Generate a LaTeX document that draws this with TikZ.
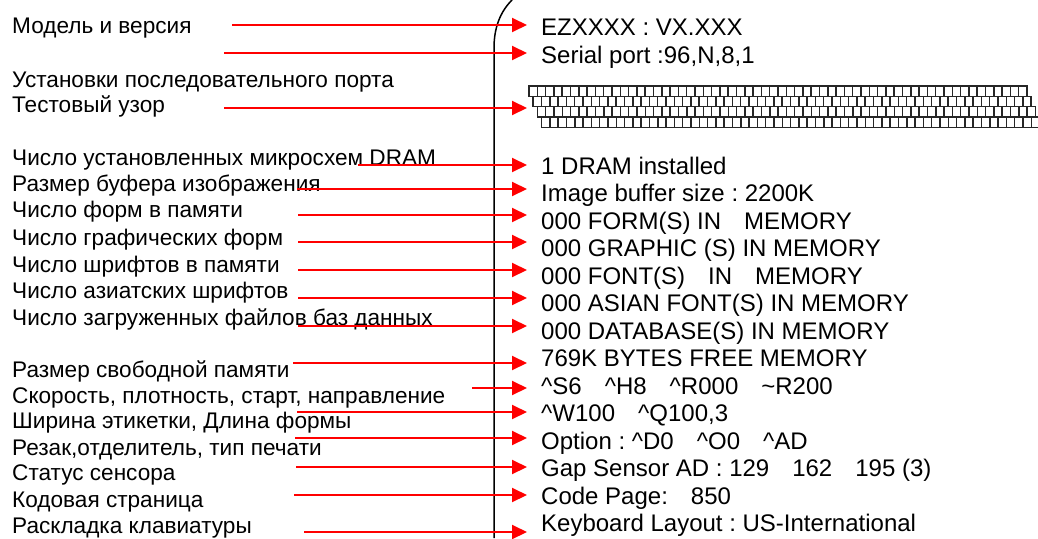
\documentclass[tikz,border=0pt]{standalone}
\usepackage{fontspec}
\setmainfont{Liberation Sans}
\usetikzlibrary{arrows.meta}
\frenchspacing
\tikzset{
    % red pointer from a label to the printout line
    redarrow/.style={
        line width=2pt,
        red,
        -{Triangle[length=15pt, width=14pt]},
        shorten >=14pt
    },
    lbl/.style={anchor=base west, inner sep=0pt, font=\fontsize{22.6}{26}\selectfont},
    txt/.style={anchor=base west, inner sep=0pt, font=\fontsize{24}{28}\selectfont},
    brick/.style={line width=1.5pt, draw=black!85, fill=white}
}
\newcommand{\wgap}{\hspace{23pt}}

\begin{document}
\begin{tikzpicture}[x=1pt,y=-1pt]
\useasboundingbox (0,0) rectangle (1038,538);

% ===================== paper edge =====================
\draw[line width=1.5pt] (512,0) .. controls (500,12) and (494,28) .. (494,48) -- (494,538);

% ===================== left labels =====================
\foreach \y/\t [count=\i] in {
    33/{Модель и версия},
    87/{Установки последовательного порта},
    112/{Тестовый узор},
    165/{Число установленных микросхем DRAM},
    191/{Размер буфера изображения},
    217/{Число форм в памяти},
    245/{Число графических форм},
    272/{Число шрифтов в памяти},
    298/{Число азиатских шрифтов},
    325/{Число загруженных файлов баз данных},
    377/{Размер свободной памяти},
    403/{Скорость, плотность, старт, направление},
    428/{Ширина этикетки, Длина формы},
    455/{Резак,отделитель, тип печати},
    480/{Статус сенсора},
    507/{Кодовая страница},
    533/{Раскладка клавиатуры}}
    \node[lbl] (lbl\i) at (12,\y) {\t};

% ===================== printout =====================
\node[txt] (txt1) at (541,35) {EZXXXX : VX.XXX};
\node[txt] (txt2) at (541,63) {Serial port :96,N,8,1};
\node[txt] (txt3) at (541,174) {1 DRAM installed};
\node[txt] (txt4) at (541,201.5) {Image buffer size : 2200K};
\node[txt] (txt5) at (541,229) {000 FORM(S) IN\wgap MEMORY};
\node[txt] (txt6) at (541,256.5) {000 GRAPHIC (S) IN MEMORY};
\node[txt] (txt7) at (541,284) {000 FONT(S)\wgap IN\wgap MEMORY};
\node[txt] (txt8) at (541,311.5) {000 ASIAN FONT(S) IN MEMORY};
\node[txt] (txt9) at (541,339) {000 DATABASE(S) IN MEMORY};
\node[txt] (txt10) at (541,366.5) {769K BYTES FREE MEMORY};
\node[txt] (txt11) at (541,394) {\textasciicircum S6\wgap\textasciicircum H8\wgap\textasciicircum R000\wgap\textasciitilde R200};
\node[txt] (txt12) at (541,421.5) {\textasciicircum W100\wgap\textasciicircum Q100,3};
\node[txt] (txt13) at (541,449) {Option : \textasciicircum D0\wgap\textasciicircum O0\wgap\textasciicircum AD};
\node[txt] (txt14) at (541,476.5) {Gap Sensor AD : 129\wgap 162\wgap 195 (3)};
\node[txt] (txt15) at (541,504) {Code Page:\wgap 850};
\node[txt] (txt16) at (541,531.5) {Keyboard Layout : US-International};

% test pattern
\foreach \r in {0,...,3}
    \foreach \k in {0,...,59}
        \draw[brick] ({529+4.2*\r+8.3*\k},{86+10.35*\r}) rectangle +(8.3,10.35);
\coordinate (pat) at (541,108);

% ===================== arrows =====================
\coordinate (from1) at (232,25);
\coordinate (from2) at (224,53);
\coordinate (from3) at (224,108);
\draw[redarrow] (from1) -- (from1 -| txt1.west);
\draw[redarrow] (from2) -- (from2 -| txt2.west);
\draw[redarrow] (from3) -- (pat);
\foreach \x/\y [count=\i from 3] in {358/165, 297/189, 298/215, 298/242, 298/270, 298/298, 298/326,
    293/363, 472/388, 297/412, 295/438, 296/467, 294/495, 304/532}{
    \coordinate (from\i) at (\x,\y);
    \draw[redarrow] (from\i) -- (from\i -| txt\i.west);
}

\end{tikzpicture}
\end{document}
